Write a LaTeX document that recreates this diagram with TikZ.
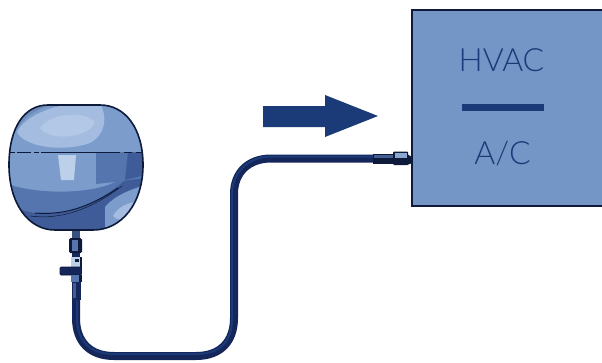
\documentclass[tikz,border=0pt]{standalone}
\usepackage{fontspec}
\setmainfont{Lato Light}
\usetikzlibrary{calc}
\definecolor{navy}{HTML}{1B3A78}
\definecolor{deep}{HTML}{14265A}
\definecolor{boxblue}{HTML}{7396C6}
\definecolor{tankmid}{HTML}{7C9CCC}
\definecolor{tanklight}{HTML}{A3BCE0}
\definecolor{tankpale}{HTML}{BCD0EA}
\definecolor{tankdark}{HTML}{5475AE}
\definecolor{tankdeep}{HTML}{3F5C98}
\definecolor{ink}{HTML}{0E1A3A}
\tikzset{
  unitbox/.style={fill=boxblue,draw=ink,line width=1.6pt},
  unitlabel/.style={text=navy,font=\fontsize{32}{32}\selectfont,inner sep=0pt,anchor=base},
  pipeline/.style={line width=8pt,draw=deep,line cap=butt},
  pipeshine/.style={line width=2pt,draw=navy},
  fitpart/.style={fill=deep,draw=ink,line width=.6pt},
  tankshape/.style={},
}
\begin{document}
\begin{tikzpicture}[x=1pt,y=-1pt]
\useasboundingbox (0,0) rectangle (602,362);
% unit
\fill[unitbox] (412,10) rectangle (606,206);
\node[unitlabel] (hvac) at (501.5,71.5) {HVAC};
\node[unitlabel] (ac) at (502.5,164) {A/C};
\fill[navy] (462,104) rectangle (544,111);
% arrow
\fill[navy] (263,106) -- (325,106) -- (325,95) -- (378,116) -- (325,137) -- (325,127) -- (263,127) -- cycle;
% pipe
\coordinate (p0) at (76,280);
\coordinate (p1) at (76,318);
\coordinate (p2) at (114,356);
\coordinate (p3) at (196,356);
\coordinate (p4) at (234,318);
\coordinate (p5) at (234,194);
\coordinate (p6) at (271,158.5);
\coordinate (p7) at (376,158.5);
\draw[pipeline] (p0) -- (p1) .. controls (76,342) and (90,356) .. (p2) -- (p3)
  .. controls (220,356) and (234,342) .. (p4) -- (p5)
  .. controls (234,172) and (249,158.5) .. (p6) -- (p7);
\draw[pipeshine] (77,300) -- (77,318) .. controls (77,342) and (91,354) .. (114,354) -- (196,354)
  .. controls (220,354) and (232,342) .. (232,318) -- (232,194)
  .. controls (232,172) and (249,156.5) .. (271,156.5) -- (376,156.5);
% right-hand fitting
\fill[ink] (373,154) rectangle (394,163.5);
\fill[tankdark!75!ink] (374,154.5) rectangle (393,158);
\fill[ink,rounded corners=1pt] (393,151.5) rectangle (408,165);
\fill[tanklight!70!tankdark] (395,153) rectangle (407,157.5);
\fill[ink] (407,154) -- (412,157) -- (412,163) -- (407,165) -- cycle;
% tank
\def\tankpath{(9,165) .. controls (9,128) and (24,105) .. (48,105)
  -- (100,105) .. controls (125,105) and (143,128) .. (143,165)
  .. controls (143,203) and (122,230) .. (93,230)
  -- (55,230) .. controls (28,230) and (9,203) .. (9,165) -- cycle}
\path[fill=tankmid] \tankpath;
\begin{scope}
\clip \tankpath;
\fill[tankdark] (0,181) .. controls (30,195) and (90,195) .. (115,182) .. controls (130,172) and (136,160) .. (150,152) -- (150,240) -- (0,240) -- cycle;
\fill[tankdeep] (15,207) .. controls (45,222) and (90,212) .. (125,180) -- (150,170) -- (150,240) -- (0,240) -- cycle;
\fill[tankmid] (105,207) .. controls (115,195) and (130,190) .. (145,185) -- (145,232) -- (105,232) -- cycle;
\fill[tanklight] (113,216) .. controls (118,206) and (130,202) .. (140,201) -- (140,212) .. controls (130,220) and (118,222) .. (113,216) -- cycle;
\fill[tankdark] (96,152) -- (145,152) -- (145,178) -- (115,182) -- (96,184) -- cycle;
\fill[tankdeep] (128,152) -- (145,152) -- (145,175) -- (125,180) -- cycle;
\fill[tankdark!85!white] (0,100) rectangle (150,152);
\fill[tankmid] (10,152) .. controls (12,120) and (40,103) .. (70,103) -- (112,103) .. controls (130,113) and (140,135) .. (143,152) -- cycle;
\fill[tanklight] (17,132) .. controls (25,115) and (60,100) .. (100,103) .. controls (108,118) and (105,135) .. (90,143) .. controls (65,152) and (25,148) .. (17,132) -- cycle;
\fill[tankpale!60!tanklight] (40,128) .. controls (50,113) and (85,110) .. (95,122) .. controls (90,138) and (50,142) .. (40,128) -- cycle;
\fill[tankpale] (58,155) -- (76,155) -- (74,180) -- (61,180) -- cycle;
\draw[ink,line width=.9pt,dash pattern=on 5pt off 2pt on 14pt off 3pt] (10,152) -- (42,152);
\draw[ink,line width=1pt] (42,152) -- (112,152);
\draw[ink,line width=.9pt,dash pattern=on 8pt off 4pt] (112,152) -- (142,152);
\draw[ink,line width=1pt] (35,213) .. controls (60,215) and (85,210) .. (118,188);
\draw[ink,line width=.5pt] (30,216) .. controls (60,220) and (90,210) .. (122,186);
\end{scope}
\draw[ink,line width=1.6pt] \tankpath;
% valve
\fill[tankdark!60!ink] (72,231) rectangle (80,238);
\fill[ink,rounded corners=1.5pt] (69,238) rectangle (82,253);
\fill[tankdark] (72,240) rectangle (78,251);
\fill[deep] (72,253) rectangle (80,257);
\fill[tankpale] (70.5,257) rectangle (82,267);
\fill[ink] (75,259) rectangle (79,262);
\fill[ink] (80,257) rectangle (82,268);
\fill[fitpart,rounded corners=1pt] (60,267) rectangle (81.5,275);
\fill[tankdark] (71,275) rectangle (82,282);
\fill[ink] (79,275) rectangle (82,282);
\fill[deep] (72,282) rectangle (81,300);
\fill[tankdeep] (73,283) rectangle (76,298);
\end{tikzpicture}
\end{document}
